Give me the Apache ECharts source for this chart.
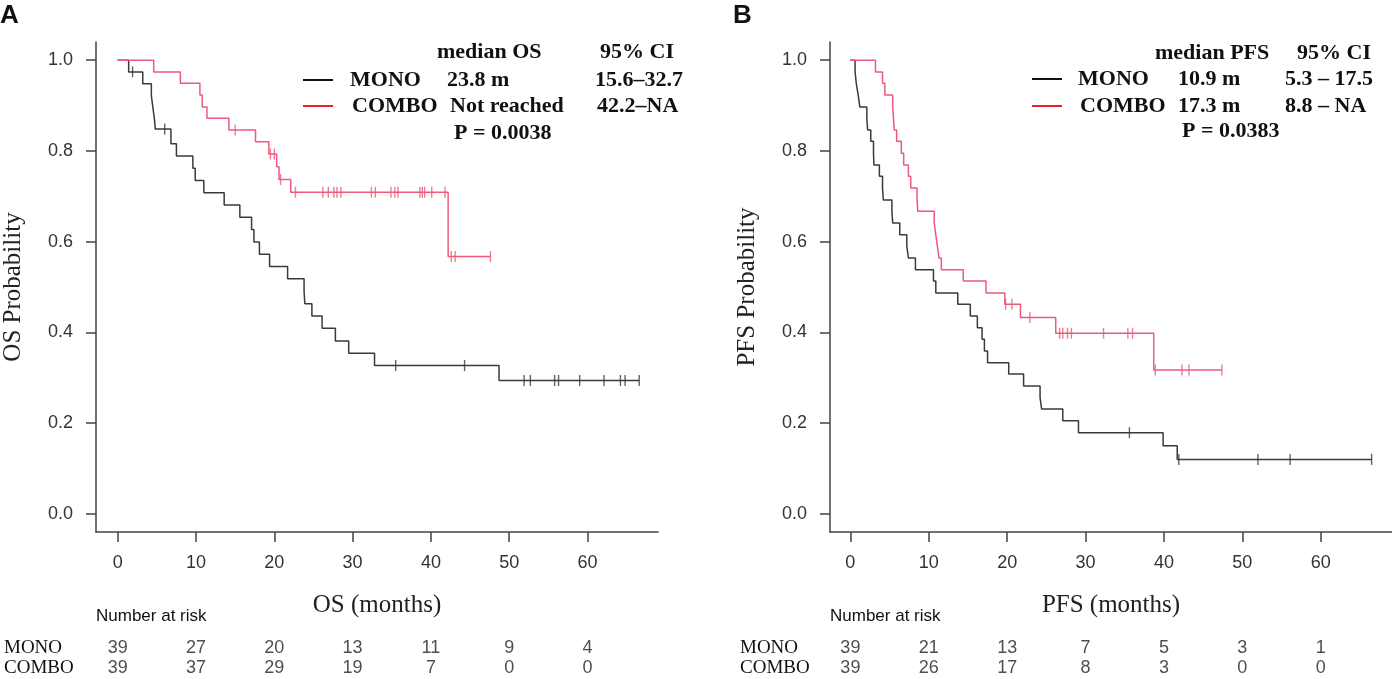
<!DOCTYPE html>
<html>
<head>
<meta charset="utf-8">
<script src="https://cdn.jsdelivr.net/npm/echarts@6/dist/echarts.min.js"></script>
<style>
  html, body { margin: 0; padding: 0; background: #fff; }
  #km { width: 1392px; height: 679px; }
</style>
</head>
<body>
<div id="km"></div>
<script>
// months shown on the x axis and in the risk table
const monthTicks = [0, 10, 20, 30, 40, 50, 60];
const probTicks = [0, 0.2, 0.4, 0.6, 0.8, 1.0];

// A: overall survival, step times and survival level after each step
const monoOsTime = [0, 1.4, 3.2, 4.3, 4.5, 4.7, 4.8, 6.8, 7.5, 9.6, 9.9, 11.0, 13.6, 15.6, 17.1, 17.4, 18.1, 19.4, 21.7, 23.8, 23.9, 24.8, 26.1, 27.8, 29.5, 32.8, 48.7];
const monoOsSurv = [1, 0.974, 0.948, 0.922, 0.895, 0.869, 0.848, 0.816, 0.789, 0.762, 0.735, 0.708, 0.681, 0.654, 0.627, 0.599, 0.572, 0.545, 0.518, 0.491, 0.463, 0.436, 0.409, 0.381, 0.354, 0.327, 0.294];
const monoOsCensor = [1.9, 6.0, 35.5, 44.3, 51.9, 52.7, 55.8, 56.3, 59.0, 62.1, 64.2, 64.8, 66.6];
const comboOsTime = [0, 4.6, 8.0, 10.5, 10.8, 11.4, 14.2, 17.6, 19.3, 20.3, 20.6, 22.1, 42.2];
const comboOsSurv = [1, 0.974, 0.949, 0.923, 0.897, 0.872, 0.846, 0.820, 0.793, 0.765, 0.737, 0.709, 0.567];
const comboOsCensor = [15.0, 19.5, 20.0, 20.8, 22.7, 26.2, 26.9, 27.6, 28.0, 28.5, 32.4, 32.9, 34.9, 35.4, 35.8, 38.6, 38.9, 39.2, 40.1, 41.8, 42.6, 43.1, 47.6];

// B: progression-free survival
const monoPfsTime = [0, 0.6, 0.75, 1.0, 1.2, 2.1, 2.2, 2.6, 2.95, 3.0, 3.7, 4.1, 4.2, 5.3, 5.4, 6.3, 7.2, 7.4, 8.3, 10.6, 10.9, 13.7, 15.3, 16.2, 16.8, 17.1, 17.5, 20.2, 22.1, 24.2, 24.4, 27.1, 29.1, 39.9, 41.7];
const monoPfsSurv = [1, 0.974, 0.949, 0.923, 0.897, 0.872, 0.846, 0.821, 0.795, 0.769, 0.744, 0.718, 0.692, 0.667, 0.641, 0.615, 0.590, 0.564, 0.538, 0.513, 0.487, 0.462, 0.436, 0.410, 0.385, 0.359, 0.333, 0.308, 0.282, 0.256, 0.231, 0.205, 0.179, 0.150, 0.120];
const monoPfsCensor = [35.6, 41.9, 52.0, 56.1, 66.5];
const comboPfsTime = [0, 3.2, 4.1, 4.4, 5.4, 5.5, 5.6, 5.9, 6.5, 6.8, 7.4, 7.7, 8.5, 8.6, 10.7, 10.9, 11.1, 11.3, 11.6, 14.4, 17.3, 19.7, 21.7, 26.2, 38.7];
const comboPfsSurv = [1, 0.974, 0.949, 0.923, 0.897, 0.872, 0.846, 0.821, 0.795, 0.769, 0.744, 0.718, 0.692, 0.667, 0.641, 0.615, 0.590, 0.564, 0.538, 0.513, 0.487, 0.462, 0.433, 0.398, 0.317];
const comboPfsCensor = [19.8, 20.6, 22.9, 26.7, 27.1, 27.7, 28.2, 32.3, 35.4, 36.0, 38.9, 42.3, 43.2, 47.4];

// number at risk
const osRiskMono = [39, 27, 20, 13, 11, 9, 4];
const osRiskCombo = [39, 37, 29, 19, 7, 0, 0];
const pfsRiskMono = [39, 21, 13, 7, 5, 3, 1];
const pfsRiskCombo = [39, 26, 17, 8, 3, 0, 0];

const BLACK = '#3a3a3a';
const RED = '#ec5b7b';
const SERIF = '"Liberation Serif", "DejaVu Serif", serif';
const SANS = '"Liberation Sans", Arial, sans-serif';

const chart = echarts.init(document.getElementById('km'));

// survival level in force at time t
function levelAt(times, surv, t) {
  let s = surv[0];
  for (let i = 0; i < times.length; i++) {
    if (times[i] <= t) s = surv[i];
  }
  return s;
}

function stepData(times, surv, censor) {
  const pts = times.map((t, i) => [t, surv[i]]);
  const end = Math.max(...censor, times[times.length - 1]);
  pts.push([end, surv[surv.length - 1]]);
  return pts;
}

function kmSeries(idx, times, surv, censor, color) {
  return [{
    type: 'line', xAxisIndex: idx, yAxisIndex: idx,
    step: 'end', symbol: 'none', silent: true,
    data: stepData(times, surv, censor),
    lineStyle: { color: color, width: 1.5 }
  }, {
    type: 'scatter', xAxisIndex: idx, yAxisIndex: idx,
    symbol: 'rect', symbolSize: [1.4, 11], silent: true,
    itemStyle: { color: color },
    data: censor.map(t => [t, levelAt(times, surv, t)])
  }];
}

function riskSeries(idx, mono, combo) {
  const lab = {
    show: true, position: 'inside', formatter: p => p.value[2],
    fontFamily: SANS, fontSize: 18, color: '#222'
  };
  return [{
    type: 'scatter', xAxisIndex: idx, yAxisIndex: idx, symbolSize: 0, silent: true,
    label: lab, data: monthTicks.map((t, i) => [t, 'MONO', mono[i]])
  }, {
    type: 'scatter', xAxisIndex: idx, yAxisIndex: idx, symbolSize: 0, silent: true,
    label: lab, data: monthTicks.map((t, i) => [t, 'COMBO', combo[i]])
  }];
}

function plotX(grid, min, max, name) {
  return {
    type: 'value', gridIndex: grid, min: min, max: max,
    name: name, nameLocation: 'middle', nameGap: 61,
    nameTextStyle: { fontFamily: SERIF, fontSize: 25, color: '#222' },
    axisLine: { show: true, onZero: false, lineStyle: { color: '#444', width: 1.5 } },
    axisTick: { show: true, length: 10, customValues: monthTicks, lineStyle: { color: '#444', width: 1.5 } },
    axisLabel: { customValues: monthTicks, margin: 22, fontFamily: SANS, fontSize: 18, color: '#333' },
    splitLine: { show: false }
  };
}

function plotY(grid, name) {
  return {
    type: 'value', gridIndex: grid, min: -0.04, max: 1.04,
    name: name, nameLocation: 'middle', nameGap: 70,
    nameTextStyle: { fontFamily: SERIF, fontSize: 25, color: '#222' },
    axisLine: { show: true, onZero: false, lineStyle: { color: '#444', width: 1.5 } },
    axisTick: { show: true, length: 10, customValues: probTicks, lineStyle: { color: '#444', width: 1.5 } },
    axisLabel: { customValues: probTicks, margin: 23, formatter: v => v.toFixed(1), fontFamily: SANS, fontSize: 18, color: '#333' },
    splitLine: { show: false }
  };
}

function riskX(grid, min, max) {
  return { type: 'value', gridIndex: grid, min: min, max: max, show: false };
}

function riskY(grid, margin) {
  return {
    type: 'category', gridIndex: grid, data: ['COMBO', 'MONO'],
    axisLine: { show: false }, axisTick: { show: false },
    axisLabel: { interval: 0, align: 'left', margin: margin, fontFamily: SERIF, fontSize: 19, color: '#111' }
  };
}

// legend tables drawn as text
function txt(x, y, s, font) {
  return {
    type: 'text', x: x, y: y, silent: true,
    style: { text: s, font: font || ('bold 22px ' + SERIF), fill: '#111', align: 'left', verticalAlign: 'middle' }
  };
}
function seg(x1, x2, y, color) {
  return { type: 'line', silent: true, shape: { x1: x1, y1: y, x2: x2, y2: y }, style: { stroke: color, lineWidth: 2 } };
}

option = {
  backgroundColor: '#fff',
  animation: false,
  grid: [
    { left: 96, top: 42, width: 562, height: 490 },
    { left: 830, top: 42, width: 562, height: 490 },
    { left: 96, top: 638, width: 562, height: 40 },
    { left: 830, top: 638, width: 562, height: 40 }
  ],
  xAxis: [
    plotX(0, -2.77, 69.0, 'OS (months)'),
    plotX(1, -2.6, 69.1, 'PFS (months)'),
    riskX(2, -2.77, 69.0),
    riskX(3, -2.6, 69.1)
  ],
  yAxis: [
    plotY(0, 'OS Probability'),
    plotY(1, 'PFS Probability'),
    riskY(2, 92),
    riskY(3, 90)
  ],
  series: [].concat(
    kmSeries(0, monoOsTime, monoOsSurv, monoOsCensor, BLACK),
    kmSeries(0, comboOsTime, comboOsSurv, comboOsCensor, RED),
    kmSeries(1, monoPfsTime, monoPfsSurv, monoPfsCensor, BLACK),
    kmSeries(1, comboPfsTime, comboPfsSurv, comboPfsCensor, RED),
    riskSeries(2, osRiskMono, osRiskCombo),
    riskSeries(3, pfsRiskMono, pfsRiskCombo)
  ),
  graphic: [
    txt(0, 16, 'A', 'bold 26px ' + SANS),
    txt(733, 16, 'B', 'bold 26px ' + SANS),
    txt(96, 616, 'Number at risk', '17px ' + SANS),
    txt(830, 616, 'Number at risk', '17px ' + SANS),

    txt(437, 52, 'median OS'), txt(600, 52, '95% CI'),
    seg(303, 333, 80, '#111'),
    txt(350, 80, 'MONO'), txt(447, 80, '23.8 m'), txt(595, 80, '15.6–32.7'),
    seg(303, 333, 106, '#e8202a'),
    txt(352, 106, 'COMBO'), txt(450, 106, 'Not reached'), txt(597, 106, '42.2–NA'),
    txt(454, 133, 'P = 0.0038'),

    txt(1155, 53, 'median PFS'), txt(1297, 53, '95% CI'),
    seg(1032, 1062, 79, '#111'),
    txt(1078, 79, 'MONO'), txt(1178, 79, '10.9 m'), txt(1285, 79, '5.3 – 17.5'),
    seg(1032, 1062, 106, '#e8202a'),
    txt(1080, 106, 'COMBO'), txt(1178, 106, '17.3 m'), txt(1285, 106, '8.8 – NA'),
    txt(1182, 131, 'P = 0.0383')
  ]
};

chart.setOption(option);
</script>
</body>
</html>
